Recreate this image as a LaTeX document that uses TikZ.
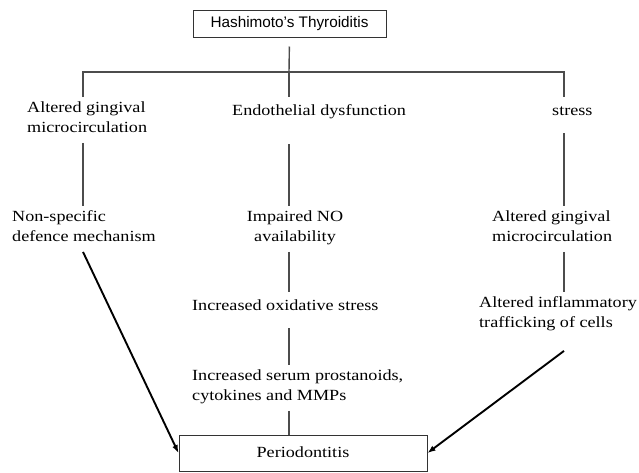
\documentclass[tikz,border=0pt]{standalone}
\usepackage{fontspec}
\setmainfont{Liberation Serif}[FakeStretch=1.17]
\setsansfont{Liberation Sans}
\usetikzlibrary{arrows.meta,positioning,calc}

\begin{document}
\begin{tikzpicture}[
    x=1pt,
    y=-1pt,
    >=Latex,
    lbl/.style={
        inner xsep=0pt,
        inner ysep=4.25pt,
        font=\fontsize{15.5}{20}\selectfont,
        execute at begin node=\strut,
        execute at end node=\strut
    },
    box/.style={
        draw=black!80,
        line width=1pt,
        inner sep=0pt,
        align=center
    },
    link/.style={draw=black!70, line width=1.4pt},
    arr/.style={->, line width=1.9pt, >={Latex[length=8pt,width=6pt]}}
]

\useasboundingbox (0,0) rectangle (639,472);

\node[
    box,
    minimum width=193pt,
    minimum height=27pt,
    font=\sffamily\fontsize{15.3}{17}\selectfont
] (hash) at (289.5,23.5) {Hashimoto's Thyroiditis};

\coordinate (hub) at (289,72);
\coordinate (colL) at (83,72);
\coordinate (colR) at (564,72);

\node[lbl, anchor=west, align=left] (amc) at (27,120) {Altered gingival\\microcirculation};
\node[lbl, anchor=west] (endo) at (232,111) {Endothelial dysfunction};
\node[lbl, anchor=west] (str) at (552,111) {stress};

\node[lbl, anchor=west, align=left] (nsd) at (12,229) {Non-specific\\defence mechanism};
\node[lbl, align=center] (ino) at (295,229) {Impaired NO\\availability};
\node[lbl, anchor=west, align=left] (rmc) at (492,229) {Altered gingival\\microcirculation};

\node[lbl, anchor=west] (ios) at (192,306) {Increased oxidative stress};
\node[lbl, anchor=west, align=left] (ait) at (479,315) {Altered inflammatory\\trafficking of cells};

\node[lbl, anchor=west, align=left] (isp) at (192,388) {Increased serum prostanoids,\\cytokines and MMPs};

\node[
    box,
    minimum width=248pt,
    minimum height=36pt,
    font=\fontsize{15.5}{20}\selectfont,
    execute at begin node=\strut
] (peri) at (303,453) {Periodontitis};

\draw[link, shorten <=9pt] (hash.south) -- (hub);
\draw[link] (amc.north -| colL) -- (colL) -- (colR) -- (str.north -| colR);
\draw[link] (hub) -- (endo.north -| hub);

\draw[link] (amc.south -| colL) -- (nsd.north -| colL);
\draw[arr] (nsd.south -| colL) -- (peri.west);

\draw[link, shorten <=19pt] (endo.south -| hub) -- (ino.north -| hub);
\draw[link] (ino.south -| hub) -- (ios.north -| hub);
\draw[link, shorten <=8pt] (ios.south -| hub) -- (isp.north -| hub);
\draw[link] (isp.south -| hub) -- (peri.north -| hub);

\draw[link, shorten <=8pt] (str.south -| colR) -- (rmc.north -| colR);
\draw[link] (rmc.south -| colR) -- (ait.north -| colR);
\draw[arr] ($(ait.south -| colR)+(0,13)$) -- (peri.east);

\end{tikzpicture}
\end{document}
